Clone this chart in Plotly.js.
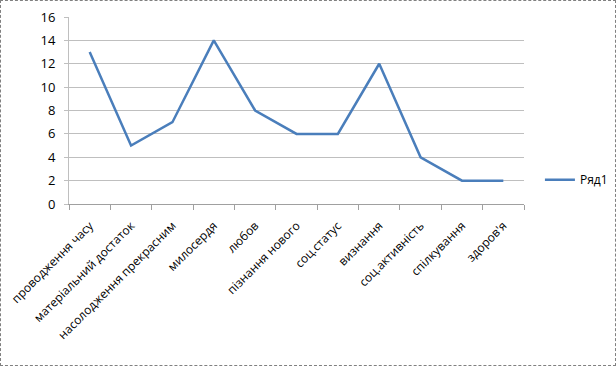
<!DOCTYPE html>
<html><head><meta charset="utf-8">
<script src="https://cdn.plot.ly/plotly-3.0.1.min.js"></script>
<style>html,body{margin:0;padding:0;background:#fff}
#wrap{position:absolute;left:0;top:0;width:616px;height:366px;box-sizing:border-box;border:1px dashed #808080}
#chart{width:614px;height:364px}</style>
</head><body><div id="wrap"><div id="chart"></div></div>
<script>
const categories = ["проводження часу","матеріальний достаток","насолодження прекрасним","милосердя","любов","пізнання нового","соц.статус","визнання","соц.активність","спілкування","здоров'я"];
const values = [13,5,7,14,8,6,6,12,4,2,2];
const seriesName = "Ряд1";
const yTicks = [0,2,4,6,8,10,12,14,16];

Plotly.newPlot('chart',[{
  x: categories, y: values, type:'scatter', mode:'lines', name: seriesName,
  line:{color:'#4A7EBB', width:2.5}
}],{
  width:614, height:364,
  margin:{l:68,r:91,t:16,b:161, autoexpand:false},
  paper_bgcolor:'#fff', plot_bgcolor:'#fff',
  font:{family:'Open Sans, sans-serif', size:12, color:'#000'},
  showlegend:true,
  legend:{x:1.035, y:0.13, xanchor:'left', yanchor:'middle', font:{size:12}, bgcolor:'rgba(0,0,0,0)'},
  xaxis:{type:'category', tickangle:-45, showgrid:false, showline:true, linecolor:'#A0A0A0',
    ticks:'outside', tickson:'boundaries', ticklen:5, tickcolor:'#A0A0A0', range:[-0.5,10.5], zeroline:false,
    tickfont:{size:12}, ticklabelstandoff:9, ticklabelshift:0},
  yaxis:{range:[0,16], tickvals:yTicks, showgrid:true, gridcolor:'#BFBFBF', gridwidth:1,
    showline:true, linecolor:'#BFBFBF', ticks:'outside', ticklen:4, tickcolor:'#BFBFBF', zeroline:false,
    ticklabelstandoff:6, tickfont:{size:13}}
},{displayModeBar:false, staticPlot:true});
</script></body></html>
